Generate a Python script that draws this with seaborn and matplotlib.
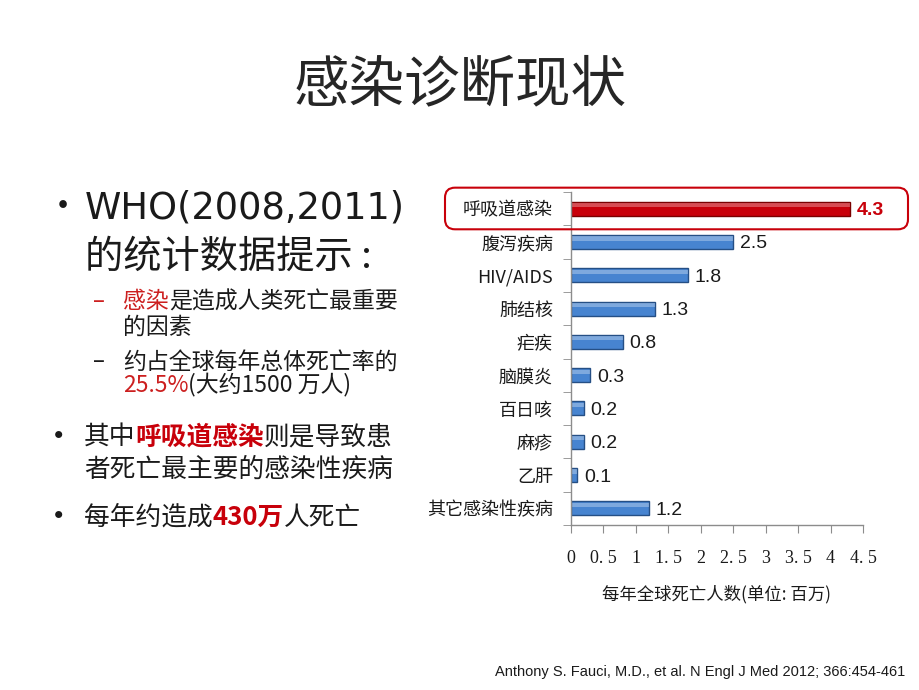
import matplotlib
matplotlib.use('Agg')
import matplotlib.pyplot as plt
import seaborn as sns
import pandas as pd
from matplotlib.patches import FancyBboxPatch, Rectangle
from matplotlib.transforms import IdentityTransform

# data
diseases = ['呼吸道感染', '腹泻疾病', 'HIV/AIDS', '肺结核', '疟疾', '脑膜炎', '百日咳', '麻疹', '乙肝', '其它感染性疾病']
deaths = [4.3, 2.5, 1.8, 1.3, 0.8, 0.3, 0.2, 0.2, 0.1, 1.2]
x_ticks = [0, 0.5, 1, 1.5, 2, 2.5, 3, 3.5, 4, 4.5]
x_tick_labels = ['0', '0. 5', '1', '1. 5', '2', '2. 5', '3', '3. 5', '4', '4. 5']

RED = '#c8000a'
BLUE = '#4784d0'
W, H = 920, 690

df = pd.DataFrame({'disease': diseases, 'deaths': deaths})
bar_colors = [RED] + [BLUE] * (len(diseases) - 1)

sns.set_style('white')
plt.rcParams['font.family'] = ['Noto Sans CJK SC', 'DejaVu Sans']

fig = plt.figure(figsize=(W / 100, H / 100), dpi=100)
ax = fig.add_axes([571 / W, 1 - 525 / H, 292 / W, 333 / H])

sns.barplot(data=df, x='deaths', y='disease', hue='disease', palette=bar_colors,
            saturation=1, legend=False, width=0.42, orient='h', ax=ax)

# edges + light strip for the bevelled look
for patch, c in zip(list(ax.patches), bar_colors):
    patch.set_edgecolor('#7a0000' if c == RED else '#254f85')
    patch.set_linewidth(1.0)
    x0, y0 = patch.get_x(), patch.get_y()
    w, h = patch.get_width(), patch.get_height()
    ax.add_patch(Rectangle((x0, y0 + h * 0.1), w, h * 0.3, color='white', alpha=0.3, lw=0))

ax.set_xlim(0, 4.5)
ax.set_ylim(len(diseases) - 0.5, -0.5)

# value labels
for i, v in enumerate(deaths):
    if i == 0:
        ax.text(v + 0.1, i, f'{v}', va='center_baseline', ha='left', fontsize=14,
                fontweight='bold', color=RED, family='Liberation Sans')
    else:
        ax.text(v + 0.1, i, f'{v}', va='center_baseline', ha='left', fontsize=14,
                color='#1a1a1a', family='Liberation Sans')

for s in ['top', 'right']:
    ax.spines[s].set_visible(False)
for s in ['left', 'bottom']:
    ax.spines[s].set_color('#8c8c8c')
    ax.spines[s].set_linewidth(1.0)

ax.set_yticks(range(len(diseases)))
ax.set_yticklabels(diseases, fontsize=13, color='#1a1a1a')
ax.set_yticks([i - 0.5 for i in range(len(diseases) + 1)], minor=True)
ax.tick_params(axis='y', which='major', length=0, pad=13)
ax.tick_params(axis='y', which='minor', length=6, color='#8c8c8c', left=True)

ax.set_xticks(x_ticks)
ax.set_xticklabels(x_tick_labels, fontsize=13, family='Liberation Serif', color='#1a1a1a')
ax.tick_params(axis='x', which='major', length=6, color='#8c8c8c', pad=12, bottom=True)
ax.set_xlabel('每年全球死亡人数(单位: 百万)', fontsize=12.5, color='#1a1a1a', labelpad=13)
ax.set_ylabel('')

# rounded box around the first row
fig.canvas.draw()
y_top = ax.transData.transform((0, -0.63))[1]
y_bot = ax.transData.transform((0, 0.62))[1]
box = FancyBboxPatch((445, y_bot), 463, y_top - y_bot, boxstyle='round,pad=0,rounding_size=10',
                     fc='none', ec=RED, lw=1.5, transform=IdentityTransform())
fig.patches.append(box)

# title
fig.text(0.5, 1 - 86 / H, '感染诊断现状', fontsize=40, ha='center', va='center',
         color='#262626', fontweight='light')


def line(x, y, parts, size, family=None):
    # draw coloured runs one after another on the same line
    fam = family or plt.rcParams['font.family']
    s, c, w = parts[0]
    t = ax.annotate(s, xy=(x, H - y), xycoords='figure pixels', va='center', ha='left',
                    fontsize=size, color=c, fontweight=w, family=fam, annotation_clip=False)
    for s, c, w in parts[1:]:
        t = ax.annotate(s, xy=(1, 0), xycoords=t, va='bottom', ha='left',
                        fontsize=size, color=c, fontweight=w, family=fam, annotation_clip=False)


K = '#1a1a1a'
line(45, 208, [('•', K, 'normal')], 26)
line(85, 208, [('WHO(2008,2011)', K, 'normal')], 26.5, family=['DejaVu Sans'])
line(85, 257, [('的统计数据提示 :', K, 'normal')], 27.5)

line(93, 302, [('–', '#cc1f1f', 'normal')], 16)
line(123, 302, [('感染', '#cc1f1f', 'normal'), ('是造成人类死亡最重要', K, 'normal')], 16.5)
line(123, 327, [('的因素', K, 'normal')], 16.5)
line(93, 362, [('–', K, 'normal')], 16)
line(123, 362, [('约占全球每年总体死亡率的', K, 'normal')], 16.5)
line(123, 385, [('25.5%', '#cc1f1f', 'normal'), ('(大约1500 万人)', K, 'normal')], 16.5)

line(42, 437, [('•', K, 'normal')], 24)
line(84, 437, [('其中', K, 'normal'), ('呼吸道感染', RED, 'bold'), ('则是导致患', K, 'normal')], 18.5)
line(84, 470, [('者死亡最主要的感染性疾病', K, 'normal')], 18.5)
line(42, 518, [('•', K, 'normal')], 24)
line(84, 518, [('每年约造成', K, 'normal'), ('430万', RED, 'bold'), ('人死亡', K, 'normal')], 18.5)

fig.text(905 / W, 1 - 672 / H, 'Anthony S. Fauci, M.D., et al. N Engl J Med 2012; 366:454-461',
         ha='right', va='center', fontsize=10.5, family='Liberation Sans', color='#1a1a1a')

fig.savefig('out.png', dpi=100)
